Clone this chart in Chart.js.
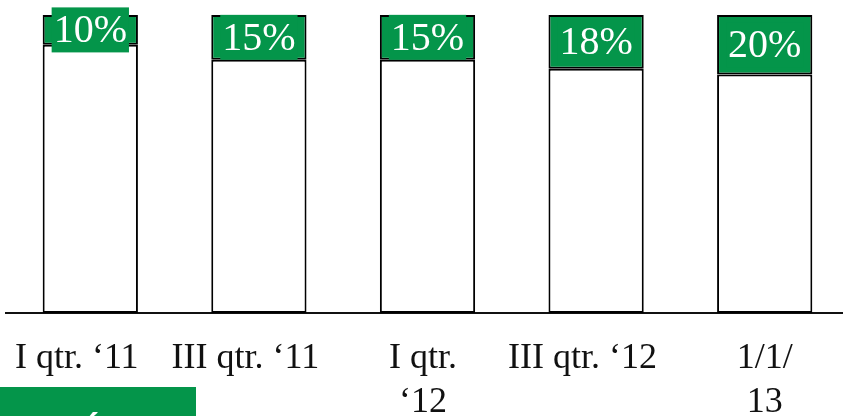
<!DOCTYPE html>
<html>
<head>
<meta charset="utf-8">
<script src="https://cdn.jsdelivr.net/npm/chart.js@4/dist/chart.umd.min.js"></script>
<style>
  html, body { margin: 0; padding: 0; background: #fff; overflow: hidden; }
  canvas { display: block; }
</style>
</head>
<body>
<canvas id="share" width="850" height="416"></canvas>
<script>
// Quarterly share, stacked to 100%
const PERIODS = [
  "I qtr. \u201811   ",
  "III qtr. \u201811   ",
  ["I qtr. ", "\u201812 "],
  "III qtr. \u201812   ",
  ["1/1/", "13"]
];
const SHARE = [10, 15, 15, 18, 20];
const REST = [90, 85, 85, 82, 80];

const GREEN = "#04954a";
const SERIF = "'Liberation Serif', 'Times New Roman', serif";

// ── Percent labels on the green segments ─────────────────────────────

const shareLabels = {
  id: "shareLabels",
  afterDatasetsDraw(chart) {
    const ctx = chart.ctx;
    const meta = chart.getDatasetMeta(1);
    ctx.save();
    ctx.font = "40px " + SERIF;
    ctx.textAlign = "center";
    ctx.textBaseline = "middle";
    meta.data.forEach((bar, i) => {
      const text = SHARE[i] + "%";
      const cy = (bar.y + bar.base) / 2;
      const w = ctx.measureText(text).width + 4;
      ctx.fillStyle = GREEN;
      ctx.fillRect(bar.x - w / 2, cy - 22.5, w, 45);
      ctx.fillStyle = "#fff";
      ctx.fillText(text, bar.x, cy + 2);
    });
    ctx.restore();
  }
};

// ── Green tab in the lower-left corner ───────────────────────────────

const cornerTab = {
  id: "cornerTab",
  afterDraw(chart) {
    const ctx = chart.ctx;
    ctx.save();
    ctx.fillStyle = GREEN;
    ctx.fillRect(0, 387, 196, 29);
    ctx.fillStyle = "#fff";
    ctx.font = "bold 36px 'Liberation Sans', sans-serif";
    ctx.textAlign = "center";
    ctx.textBaseline = "top";
    ctx.fillText("\u00b4", 93, 411);
    ctx.restore();
  }
};

new Chart(document.getElementById("share"), {
  type: "bar",
  data: {
    labels: PERIODS,
    datasets: [
      {
        data: REST,
        backgroundColor: "#fff",
        borderColor: "#000",
        borderWidth: 2,
        borderSkipped: false,
      },
      {
        data: SHARE,
        backgroundColor: GREEN,
        borderColor: "#000",
        borderWidth: 2,
        borderSkipped: false,
      }
    ]
  },
  options: {
    responsive: false,
    animation: false,
    events: [],
    layout: { padding: { left: 6, right: 1, top: 15, bottom: 0 } },
    datasets: { bar: { categoryPercentage: 1, barPercentage: 0.565 } },
    plugins: { legend: { display: false }, tooltip: { enabled: false } },
    scales: {
      x: {
        stacked: true,
        grid: { display: false, drawTicks: false },
        border: { display: true, color: "#111", width: 2 },
        ticks: {
          color: "#111",
          padding: 24,
          maxRotation: 0,
          autoSkip: false,
          font: { family: SERIF, size: 36, lineHeight: 1.22 }
        },
        afterFit(scale) {
          scale.height = 103;
          scale.paddingLeft = 0;
          scale.paddingRight = 0;
        }
      },
      y: {
        stacked: true,
        display: false,
        min: 0,
        max: 100
      }
    }
  },
  plugins: [shareLabels, cornerTab]
});
</script>
</body>
</html>
